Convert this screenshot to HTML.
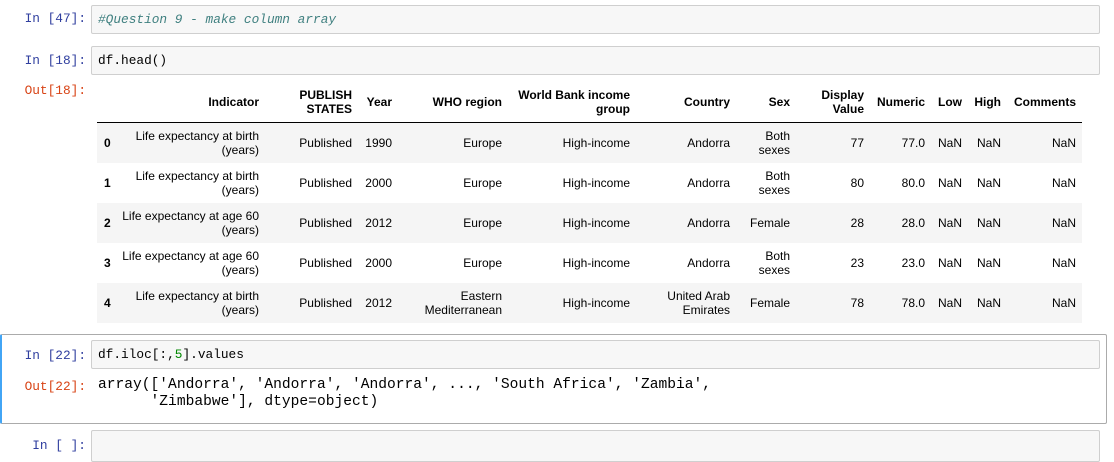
<!DOCTYPE html>
<html><head><meta charset="utf-8">
<style>
body{margin:0;width:1114px;height:445px;background:#fff;position:relative;overflow:hidden;font-family:"Liberation Sans",Arial,sans-serif;}
.prompt{position:absolute;font-family:"Liberation Mono","DejaVu Sans Mono",monospace;font-size:12.8px;line-height:17px;text-align:right;width:86px;left:0;}
.pin{color:#303f9f}.pout{color:#d84315}
.inbox{position:absolute;left:91px;width:1007px;height:27px;background:#f7f7f7;border:1px solid #cfcfcf;border-radius:2px;}
.code{position:absolute;left:6px;top:5px;font-family:"Liberation Mono","DejaVu Sans Mono",monospace;font-size:12.8px;line-height:17px;color:#000;white-space:pre;}
.cm{color:#408080;font-style:italic}.num{color:#080}
.c{position:absolute;font-size:12px;line-height:14px;color:#000;text-align:right;display:flex;align-items:center;justify-content:flex-end;height:40px;}
.h{font-weight:bold}
.row{position:absolute;left:97px;width:985px;height:40px;}
.out{position:absolute;left:98px;font-family:"Liberation Mono","DejaVu Sans Mono",monospace;font-size:14.6px;line-height:17px;white-space:pre;color:#000;}
</style></head><body>
<div class="prompt pin" style="top:10px">In [47]:</div>
<div class="inbox" style="top:5px"><div class="code"><span class="cm">#Question 9 - make column array</span></div></div>

<div class="prompt pin" style="top:52px">In [18]:</div>
<div class="inbox" style="top:46px"><div class="code">df.head()</div></div>
<div class="prompt pout" style="top:82px">Out[18]:</div>

<div id="tbl"></div>

<div style="position:absolute;left:0;top:334px;width:1104px;height:88px;border:1px solid #ababab;border-left:2px solid #42a5f5;border-radius:2px;"></div>
<div class="prompt pin" style="top:347px">In [22]:</div>
<div class="inbox" style="top:340px"><div class="code">df.iloc[:,<span class="num">5</span>].values</div></div>
<div class="prompt pout" style="top:378px">Out[22]:</div>
<div class="out" style="top:377px">array(['Andorra', 'Andorra', 'Andorra', ..., 'South Africa', 'Zambia',
      'Zimbabwe'], dtype=object)</div>

<div class="prompt pin" style="top:437px">In [ ]:</div>
<div class="inbox" style="top:430px;height:30px"></div>

<script>
const rights=[111,259,352,392,502,630,730,790,864,925,962,1001,1076];
const headers=["","Indicator","PUBLISH<br>STATES","Year","WHO region","World Bank income<br>group","Country","Sex","Display<br>Value","Numeric","Low","High","Comments"];
const rows=[
["0","Life expectancy at birth<br>(years)","Published","1990","Europe","High-income","Andorra","Both<br>sexes","77","77.0","NaN","NaN","NaN"],
["1","Life expectancy at birth<br>(years)","Published","2000","Europe","High-income","Andorra","Both<br>sexes","80","80.0","NaN","NaN","NaN"],
["2","Life expectancy at age 60<br>(years)","Published","2012","Europe","High-income","Andorra","Female","28","28.0","NaN","NaN","NaN"],
["3","Life expectancy at age 60<br>(years)","Published","2000","Europe","High-income","Andorra","Both<br>sexes","23","23.0","NaN","NaN","NaN"],
["4","Life expectancy at birth<br>(years)","Published","2012","Eastern<br>Mediterranean","High-income","United Arab<br>Emirates","Female","78","78.0","NaN","NaN","NaN"]
];
const tbl=document.getElementById('tbl');
function cell(html,r,top,bold,i){
  const d=document.createElement('div');
  d.className='c'+(bold?' h':'');
  d.style.top=top+'px';
  d.style.right=(1114-r)+'px';
  if(i===0){d.style.justifyContent='flex-start';d.style.left='104px';d.style.right='auto';}
  d.innerHTML=html;
  
  
  tbl.appendChild(d);
}
headers.forEach((h,i)=>{cell(h,rights[i],82,true,i);});
const line=document.createElement('div');
line.style.cssText='position:absolute;left:97px;top:122px;width:985px;height:1px;background:#000';


tbl.appendChild(line);
rows.forEach((row,ri)=>{
  const top=123+ri*40;
  const bg=document.createElement('div');
  bg.className='row';
  bg.style.top=top+'px';
  bg.style.background=ri%2===0?'#f5f5f5':'#fff';
  
  
  tbl.appendChild(bg);
  row.forEach((v,i)=>{cell(v,rights[i],top,i===0,i);});
});
</script>
</body></html>
